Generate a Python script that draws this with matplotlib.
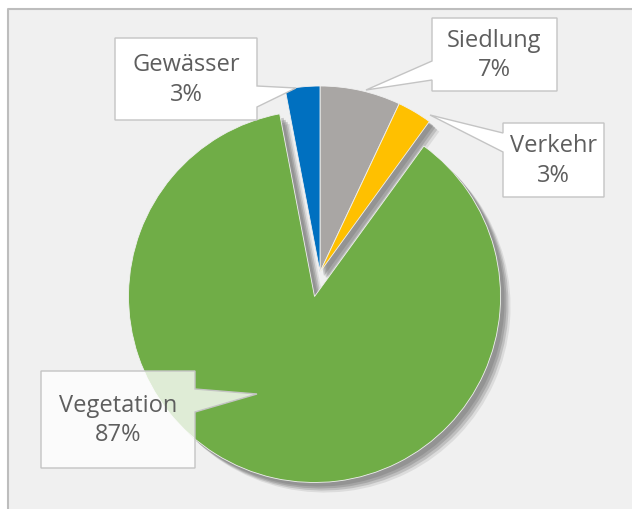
import matplotlib.pyplot as plt
from matplotlib.patches import Polygon, Rectangle

# Flächennutzung (Anteile in %), im Uhrzeigersinn ab 12 Uhr
categories = ['Siedlung', 'Verkehr', 'Vegetation', 'Gewässer']
shares = [7, 3, 87, 3]
colors = ['#A9A6A4', '#FFC000', '#70AD47', '#0070C0']
explode = [0, 0, 0.135, 0]   # as fraction of the radius

W, H = 632, 509
CX, CY, R = 320, 272, 186
TEXT = '#5E5E5E'
EDGE = '#C4C4C4'


def px(x, y):
    # pixel coords (origin top-left) -> data coords
    return (x, H - y)


def callout(ax, box, side, a, b, tip, label, alpha=1.0):
    x0, y0, x1, y1 = box
    if side == 'right':
        pts = [(x0, y0), (x1, y0), (x1, a), tip, (x1, b), (x1, y1), (x0, y1)]
    else:
        pts = [(x0, y0), (x1, y0), (x1, y1), (x0, y1), (x0, b), tip, (x0, a)]
    ax.add_patch(Polygon([px(*p) for p in pts], closed=True, facecolor='white',
                         edgecolor='none', alpha=alpha, zorder=5))
    ax.add_patch(Polygon([px(*p) for p in pts], closed=True, facecolor='none',
                         edgecolor=EDGE, linewidth=1.0, zorder=5))
    ax.text(*px((x0 + x1) / 2, (y0 + y1) / 2 + 1), label, ha='center',
            va='center', fontsize=17, color=TEXT, family='Open Sans',
            linespacing=1.3, zorder=6)


fig = plt.figure(figsize=(6.32, 5.09), dpi=100)
ax = fig.add_axes([0, 0, 1, 1])

# pie() offsets exploded wedges in data units, so scale by the radius
offsets = [e * R for e in explode]

# soft drop shadow, drawn as a few offset layers
for off, a in [(10, 0.15), (8, 0.25), (6, 0.3), (4, 0.3)]:
    ax.pie(shares, colors=['#6a6a6a'] * len(shares), explode=offsets,
           startangle=90, counterclock=False, radius=R,
           center=(CX + off, H - CY - off),
           wedgeprops=dict(linewidth=0, alpha=a))

ax.pie(shares, colors=colors, explode=offsets, startangle=90,
       counterclock=False, radius=R, center=(CX, H - CY),
       wedgeprops=dict(linewidth=0.6, edgecolor='#F0F0F0'))

ax.set_xlim(0, W)
ax.set_ylim(0, H)
ax.set_aspect('equal')
ax.axis('off')

# chart area background with top/left border
ax.add_patch(Rectangle(px(8, H), W, H - 9, facecolor='#F0F0F0',
                       edgecolor='none', zorder=-2))
ax.plot([8, 8, W], [0, H - 9, H - 9], color='#BDBDBD', lw=1.5, zorder=-1)

labels = {c: f'{c}\n{s}%' for c, s in zip(categories, shares)}
callout(ax, (115, 38, 257, 120), 'right', 86, 107, (296, 88), labels['Gewässer'])
callout(ax, (432, 18, 557, 91), 'left', 61, 80, (366, 90), labels['Siedlung'])
callout(ax, (503, 123, 604, 197), 'left', 133, 152, (430, 115), labels['Verkehr'])
callout(ax, (41, 371, 195, 468), 'right', 389, 412, (257, 394),
        labels['Vegetation'], alpha=0.78)

fig.savefig('out.png', dpi=100, facecolor='white')
